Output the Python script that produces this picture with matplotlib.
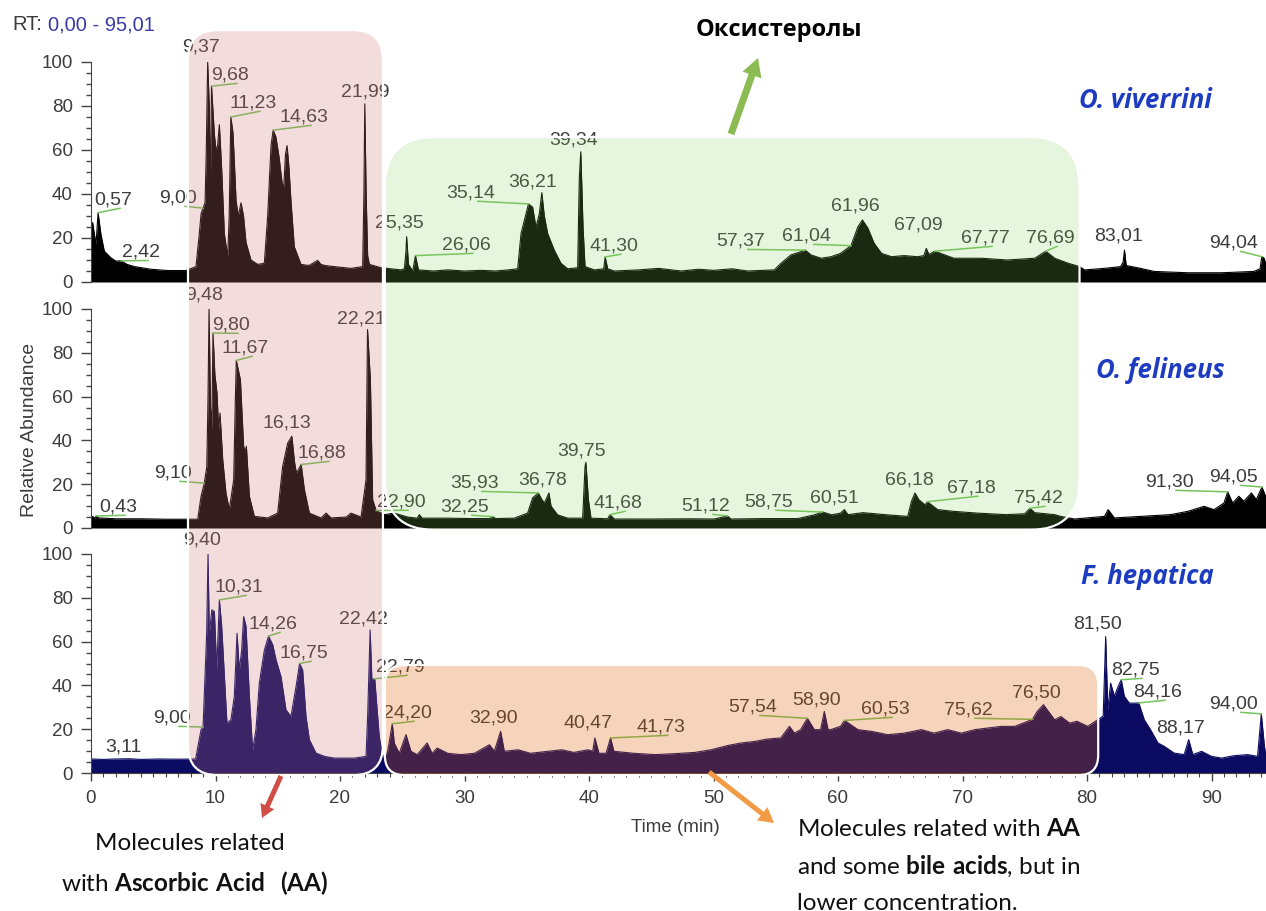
import numpy as np
import matplotlib
matplotlib.use("Agg")
import matplotlib.pyplot as plt
from matplotlib.colors import to_rgba
from matplotlib.patches import FancyBboxPatch, FancyArrow
from matplotlib.ticker import MultipleLocator

# ---- data ----
ov_time = [0.0, 0.13, 0.40, 0.57, 0.80, 1.07, 1.6, 2.0, 2.42, 2.9, 3.5, 4.8, 6.2, 7.6, 8.43, 8.70,
           8.84, 9.00, 9.16, 9.26, 9.37, 9.50, 9.58, 9.68, 9.91, 10.04, 10.17, 10.31, 10.49, 10.71,
           10.98, 11.10, 11.23, 11.40, 11.51, 11.65, 11.83, 12.05, 12.25, 12.45, 12.85, 13.39, 13.92,
           14.19, 14.46, 14.63, 14.85, 15.10, 15.35, 15.48, 15.62, 15.75, 15.90, 16.06, 16.33, 16.87,
           17.5, 18.21, 18.47, 18.8, 19.54, 20.88, 21.82, 21.92, 21.99, 22.10, 22.22, 22.36, 23.29,
           24.9, 25.17, 25.30, 25.35, 25.50, 25.84, 26.06, 26.30, 27.5, 28.65, 30.0, 31.33, 32.5,
           33.5, 34.27, 34.54, 34.94, 35.14, 35.47, 35.74, 36.01, 36.21, 36.41, 36.68, 37.21, 37.75,
           38.29, 39.09, 39.22, 39.34, 39.52, 39.68, 40.43, 41.18, 41.30, 41.50, 42.03, 44.0, 45.6,
           47.39, 48.8, 50.0, 51.5, 52.74, 54.88, 55.42, 56.22, 57.03, 57.37, 57.83, 58.64, 59.44,
           60.2, 61.04, 61.6, 61.96, 62.4, 62.9, 63.5, 64.3, 65.3, 66.4, 66.9, 67.09, 67.3, 67.77,
           69.3, 71.5, 73.6, 75.8, 76.69, 77.4, 78.5, 79.4, 79.8, 81.4, 82.7, 82.9, 83.01, 83.15,
           84.3, 85.4, 88.1, 90.8, 93.4, 93.9, 94.04, 94.2, 94.4]
ov_abund = [24, 27, 17, 31.5, 21.5, 14, 11, 9.5, 9.6, 8, 7, 5.8, 5.2, 5.2, 7, 22,
            31, 33.6, 36, 60, 100, 80, 40, 89, 67, 60, 62, 71.5, 52, 22,
            11.5, 30, 75, 68, 55, 37, 30, 36, 30, 18, 10, 8, 8.5,
            30, 62, 69, 66, 57, 45, 43, 58, 62, 52, 37, 16, 8,
            7.5, 9.8, 8, 7.5, 7, 6.2, 7, 40, 81, 40, 12, 8, 6.5,
            5.5, 6, 14, 20.6, 8, 5, 12, 5.5, 5, 5.5, 5, 5.3, 5,
            5.5, 6, 22, 31, 35.5, 34, 25, 31, 40.6, 30, 22, 14.5, 8.5,
            6, 6.5, 47, 59.2, 25, 7, 5.5, 6, 11.4, 6, 5, 5.5, 6.2,
            5, 5.8, 5.3, 6, 5, 5.5, 8.5, 12.3, 13.8, 14.5, 12.3, 10.8, 11.5,
            13, 16.5, 25.1, 28.2, 24.5, 17.6, 13, 11.5, 12, 11.5, 12, 15.3, 12.5, 14,
            10.8, 10.8, 10, 10.8, 14, 10.8, 8.5, 7, 5.5, 6.2, 7, 9, 14.5, 7.5,
            6.2, 4.8, 4.2, 4.2, 4.8, 6, 11.5, 11, 8]

of_time = [0.0, 0.13, 0.30, 0.43, 0.60, 2.0, 4.0, 6.0, 7.63, 8.57, 8.84, 9.10, 9.30, 9.40, 9.48,
           9.60, 9.70, 9.80, 9.95, 10.12, 10.25, 10.36, 10.58, 10.84, 11.11, 11.46, 11.60, 11.67,
           12.0, 12.15, 12.26, 12.40, 12.48, 12.72, 13.12, 14.19, 14.99, 15.39, 15.80, 16.13, 16.35,
           16.50, 16.88, 17.14, 17.54, 18.47, 18.88, 19.28, 20.5, 20.88, 21.69, 22.09, 22.21, 22.44,
           22.62, 22.90, 23.56, 24.36, 25.43, 26.2, 26.37, 26.6, 28.65, 30.5, 32.0, 32.25, 32.5,
           34.0, 35.07, 35.47, 35.93, 36.14, 36.41, 36.78, 36.95, 37.48, 38.29, 39.49, 39.68, 39.75,
           39.95, 40.16, 41.5, 41.68, 42.03, 45.0, 48.0, 50.06, 51.12, 51.4, 54.0, 56.76, 58.1,
           58.75, 59.5, 60.2, 60.51, 60.8, 62.0, 63.99, 65.6, 65.9, 66.18, 66.5, 67.0, 67.18, 68.0,
           69.3, 71.2, 73.5, 75.0, 75.42, 75.8, 77.4, 77.9, 79.0, 81.4, 81.7, 82.2, 84.3, 86.7,
           88.1, 89.4, 90.2, 91.0, 91.30, 91.7, 92.2, 92.6, 93.2, 93.6, 94.05, 94.38]
of_abund = [5, 5.3, 4.5, 5.5, 4.6, 4.2, 4.2, 4.0, 4.0, 4.0, 14.5, 20.5, 28, 60, 100,
            55, 45, 89, 70, 61.6, 45, 52.5, 31.2, 16, 8.4, 22, 60, 76.5,
            67.7, 50, 37.3, 35, 37.3, 14.5, 5.3, 4.6, 6.8, 28, 38.8, 41.9, 30,
            25, 29, 17.5, 6.8, 4.6, 6.8, 4.6, 5, 6.8, 5, 22, 90.6, 67.7,
            13, 8, 6.1, 6.8, 5, 4.5, 6.1, 4.5, 4.5, 4.3, 4.3, 5.2, 4.3,
            4.5, 6.8, 13.7, 16, 13.7, 11.4, 16, 10, 6, 4.5, 4.5, 28, 30,
            13, 4.5, 4.2, 6.1, 4.1, 4.1, 4.2, 4.1, 5.5, 4.1, 4.3, 4.3, 6,
            7.3, 6, 6.8, 8.4, 6.1, 7, 6, 5.3, 12.2, 16, 12.9, 10.5, 12, 8.4,
            7.6, 6.8, 6.1, 6.5, 9, 7, 6.1, 5.3, 4.1, 5.3, 8.4, 4.6, 5.3, 6.1,
            7.6, 9.9, 8.4, 11.4, 16.5, 11.4, 14.5, 12.2, 16, 13, 18.7, 14]

fh_time = [0.0, 1.0, 2.0, 3.11, 4.0, 5.5, 7.0, 8.4, 8.84, 9.00, 9.29, 9.40, 9.50, 9.71, 9.91,
           10.10, 10.31, 10.49, 10.66, 10.92, 11.24, 11.51, 11.73, 11.91, 12.10, 12.26, 12.45,
           12.72, 12.98, 13.25, 13.52, 13.92, 14.26, 14.6, 14.86, 15.26, 15.66, 16.06, 16.47,
           16.75, 17.0, 17.27, 17.54, 18.07, 18.74, 19.54, 21.15, 22.09, 22.22, 22.42, 22.56,
           22.79, 22.94, 23.15, 23.42, 23.8, 24.20, 24.36, 24.76, 25.3, 25.7, 26.2, 27.0, 27.4,
           27.8, 28.65, 29.7, 30.8, 32.0, 32.4, 32.90, 33.2, 34.3, 35.3, 36.7, 37.8, 38.8, 39.9,
           40.30, 40.47, 40.8, 41.37, 41.73, 42.0, 43.6, 45.3, 46.8, 48.5, 49.8, 51.1, 52.2, 53.3,
           54.3, 55.4, 56.1, 56.5, 57.0, 57.54, 58.1, 58.6, 58.90, 59.2, 59.4, 60.2, 60.53, 61.6,
           62.7, 64.0, 65.3, 66.7, 67.7, 68.8, 69.9, 71.0, 72.0, 73.1, 74.2, 75.2, 75.62, 76.0,
           76.50, 76.8, 77.4, 77.9, 78.6, 79.2, 80.06, 80.86, 81.3, 81.50, 81.67, 81.9, 82.2, 82.5,
           82.75, 83.0, 83.4, 83.9, 84.16, 84.6, 85.1, 85.7, 86.2, 87.0, 87.8, 88.17, 88.5, 89.2,
           90.0, 90.8, 91.8, 92.9, 93.7, 94.00, 94.25, 94.38]
fh_abund = [6.4, 6.2, 6.4, 6.5, 6.2, 6.4, 6.3, 6.4, 19.8, 21, 63.8, 100, 64, 74.5, 73.7,
            47, 79, 67.6, 50, 22.8, 24.3, 35, 63.8, 47, 56, 71.4, 67,
            35, 10.6, 19.8, 41, 56, 62.5, 58.5, 51.7, 44, 28.9, 25.8, 39.5,
            50, 47, 25.8, 15.2, 9.1, 7.6, 6.8, 6.8, 7.6, 25.8, 65.3, 42.6,
            43, 31.9, 16.7, 7.6, 9, 22.5, 13.7, 9, 17.5, 9.9, 8.4, 13.7, 9,
            11.4, 9, 8.4, 9, 12.9, 10, 19, 9.9, 10.6, 9, 9.9, 10.6, 9.4, 10.6,
            10, 16, 9, 9, 16, 9.9, 9, 8.4, 8.8, 9.4, 10.6, 12.5, 13.7, 14.4,
            15.5, 16, 21.3, 18.2, 19.8, 25, 19.8, 19.8, 28.1, 19.8, 19.8, 21.3, 24, 19.8,
            19, 17.5, 18.2, 19.8, 18.2, 19.8, 18.2, 19.8, 20.5, 21.3, 21.3, 23.5, 24.5, 28.1,
            31.2, 28.9, 24.3, 25.8, 22.8, 23.6, 21.3, 24.3, 26, 62.3, 28.9, 41, 35, 39.5,
            42.6, 35, 31.9, 31.9, 32, 24.3, 19.8, 13.7, 12.2, 9.1, 8.4, 15.2, 8.4, 9.9,
            7.6, 6.8, 7.9, 8.4, 7.6, 27, 12.2, 7.6]

ov_peaks = [0.57, 2.42, 9.00, 9.37, 9.68, 11.23, 14.63, 21.99, 25.35, 26.06, 35.14, 36.21, 39.34,
            41.30, 57.37, 61.04, 61.96, 67.09, 67.77, 76.69, 83.01, 94.04]
of_peaks = [0.43, 9.10, 9.48, 9.80, 11.67, 16.13, 16.88, 22.21, 22.90, 32.25, 35.93, 36.78, 39.75,
            41.68, 51.12, 58.75, 60.51, 66.18, 67.18, 75.42, 91.30, 94.05]
fh_peaks = [3.11, 9.00, 9.40, 10.31, 14.26, 16.75, 22.42, 22.79, 24.20, 32.90, 40.47, 41.73, 57.54,
            58.90, 60.53, 75.62, 76.50, 81.50, 82.75, 84.16, 88.17, 94.00]

species = ["O. viverrini", "O. felineus", "F. hepatica"]

# ---- layout ----
W, H = 1266, 911
X0 = 91            # pixel of t = 0
PPM = 12.45        # pixels per minute
# (y pixel of 0, y pixel of 100) per panel
PANELS = [(282, 62), (528, 309), (773, 554)]

# label centres (time, abundance) per panel
ov_lab = [(1.77, 37.3), (4.02, 13.6), (6.99, 38.2), (8.84, 106.8), (11.16, 94.1), (13.01, 81.4),
          (17.11, 75), (22.01, 86.4), (24.74, 26.8), (30.12, 16.8), (30.52, 40.5), (35.5, 45.5),
          (38.8, 64.5), (42.0, 16.4), (52.2, 18.6), (57.5, 20.9), (61.37, 34.5), (66.43, 25.9),
          (71.81, 20), (77.03, 20), (82.5, 20.9), (91.8, 17.7)]
of_lab = [(2.17, 9.6), (6.59, 25.1), (9.08, 106.4), (11.24, 92.7), (12.37, 82.2), (15.74, 47.9),
          (18.55, 34.2), (21.69, 95.4), (24.9, 11.9), (30.04, 9.6), (30.84, 20.5), (36.31, 21.9),
          (39.36, 35.2), (42.33, 11.4), (49.4, 10), (54.46, 11.9), (59.68, 13.7), (65.7, 21.9),
          (70.68, 18.3), (76.06, 13.7), (86.59, 21), (91.8, 23.3)]
fh_lab = [(2.57, 11.9), (6.51, 25.1), (8.92, 106.4), (11.89, 84.9), (14.62, 68), (17.11, 54.8),
          (21.85, 70.3), (24.82, 48.4), (25.38, 27.4), (32.37, 25.1), (39.92, 22.8), (45.78, 21),
          (53.17, 30.1), (58.31, 33.3), (63.78, 29.2), (70.44, 28.8), (75.9, 36.5), (80.88, 68),
          (83.86, 47), (85.7, 37), (87.55, 20.5), (91.8, 31.5)]

GREY = "#3c3c3c"
plt.rcParams["font.family"] = ["Liberation Sans", "DejaVu Sans"]
plt.rcParams["mathtext.fontset"] = "custom"
plt.rcParams["mathtext.rm"] = "Lato"
plt.rcParams["mathtext.bf"] = "Lato:bold"

fig = plt.figure(figsize=(W / 100, H / 100), dpi=100)


def add_panel(y0, y100, last):
    ax = fig.add_axes([X0 / W, (H - y0) / H, (W - X0) / W, (y0 - y100) / H])
    ax.set_xlim(0, (W - X0) / PPM)
    ax.set_ylim(0, 100)
    for s in ["top", "right"]:
        ax.spines[s].set_visible(False)
    ax.spines["left"].set_color("#444444")
    ax.spines["bottom"].set_color("#444444")
    ax.yaxis.set_major_locator(MultipleLocator(20))
    ax.yaxis.set_minor_locator(MultipleLocator(5))
    ax.tick_params(axis="y", which="major", length=7, width=1, color="#444444", pad=6,
                   labelsize=13.5, labelcolor=GREY)
    ax.tick_params(axis="y", which="minor", length=3.5, width=1, color="#444444")
    if last:
        ax.xaxis.set_major_locator(MultipleLocator(10))
        ax.xaxis.set_minor_locator(MultipleLocator(1))
        ax.tick_params(axis="x", which="major", length=6, width=1, color="#444444", pad=6,
                       labelsize=13.5, labelcolor=GREY)
        ax.tick_params(axis="x", which="minor", length=3, width=0.8, color="#444444")
    else:
        ax.spines["bottom"].set_visible(False)
        ax.tick_params(axis="x", which="both", bottom=False, labelbottom=False)
    ax.patch.set_alpha(0)
    return ax


def draw_trace(ax, t, v, color, peaks, labels):
    t = np.asarray(t)
    v = np.asarray(v)
    ax.fill_between(t, v, 0, color=color, lw=0)
    ax.plot(t, v, color=color, lw=0.8)
    for rt, (lx, ly) in zip(peaks, labels):
        txt = f"{rt:.2f}".replace(".", ",")
        ax.text(lx, ly, txt, ha="center", va="center", fontsize=14, color=GREY, clip_on=False)
        apex = np.interp(rt, t, v)
        ex, ey = lx + 0.56, ly - 3.8
        if abs(rt - ex) > 0.8:
            ax.plot([rt, ex], [apex, ey], color="#74c35c", lw=1.1, clip_on=False)


axes = [add_panel(y0, y100, i == 2) for i, (y0, y100) in enumerate(PANELS)]
draw_trace(axes[0], ov_time, ov_abund, "#000000", ov_peaks, ov_lab)
draw_trace(axes[1], of_time, of_abund, "#000000", of_peaks, of_lab)
draw_trace(axes[2], fh_time, fh_abund, "#0b0b62", fh_peaks, fh_lab)

# overlay in image pixel coordinates
ov = fig.add_axes([0, 0, 1, 1])
ov.set_xlim(0, W)
ov.set_ylim(H, 0)
ov.axis("off")


def to_img(ax, t, v):
    x, y = ax.transData.transform((t, v))
    return x, H - y


def region(ax_top, ax_bot, t0, t1, v_top, v_bot, color, alpha, radius):
    x0, y0 = to_img(ax_top, t0, v_top)
    x1, y1 = to_img(ax_bot, t1, v_bot)
    box = FancyBboxPatch((x0, y0), x1 - x0, y1 - y0,
                         boxstyle=f"round,pad=0,rounding_size={radius}",
                         fc=to_rgba(color, alpha), ec="white", lw=1.6)
    ov.add_patch(box)


region(axes[0], axes[2], 7.79, 23.45, 114.5, -1.0, "#cc7575", 0.25, 30)
region(axes[0], axes[1], 23.6, 79.4, 65.9, -0.9, "#84ce58", 0.2, 50)
region(axes[2], axes[2], 23.6, 80.9, 49.3, -1.0, "#e15f05", 0.27, 20)

# arrows
ov.add_patch(FancyArrow(731, 134, 27, -76, width=7, head_width=20, head_length=18,
                        length_includes_head=True, color="#8bbb52", lw=0))
ov.add_patch(FancyArrow(281, 776, -19, 42, width=5, head_width=15, head_length=13,
                        length_includes_head=True, color="#cf4f47", lw=0))
ov.add_patch(FancyArrow(709, 772, 65, 51, width=5, head_width=17, head_length=15,
                        length_includes_head=True, color="#f29b47", lw=0))

# texts
rt = ov.text(12, 25, "RT:", fontsize=14.5, color=GREY, ha="left", va="center")
bb = rt.get_window_extent(renderer=fig.canvas.get_renderer())
ov.text(bb.x1 + 6, 25, "0,00 - 95,01", fontsize=14.5, color="#3a3aa8", ha="left", va="center")

ov.text(779, 30, "Оксистеролы", fontsize=17, fontweight="bold", color="black",
        ha="center", va="center", family=["Open Sans", "DejaVu Sans"])

for name, (x, y) in zip(species, [(1145, 100), (1160, 370), (1147, 576)]):
    ov.text(x, y, name, fontsize=18.5, fontweight="bold", fontstyle="italic", color="#1e3cc0",
            ha="center", va="center", family=["Open Sans", "DejaVu Sans"])

ov.text(30, 430, "Relative Abundance", rotation=90, fontsize=14, color=GREY,
        ha="center", va="center")
ov.text(675, 828, "Time (min)", fontsize=13.5, color=GREY, ha="center", va="center")

note = dict(fontsize=17.5, color="#111111", family=["Lato", "DejaVu Sans"], va="center")
ov.text(190, 843, "Molecules related", ha="center", **note)
ov.text(195, 883, r"with $\mathbf{Ascorbic\ Acid\ \ (AA)}$", ha="center", **note)
ov.text(797, 829, r"Molecules related with $\mathbf{AA}$", ha="left", **note)
ov.text(797, 866, r"and some $\mathbf{bile\ acids}$, but in", ha="left", **note)
ov.text(797, 903, "lower concentration.", ha="left", **note)

fig.savefig("out.png", dpi=100)
